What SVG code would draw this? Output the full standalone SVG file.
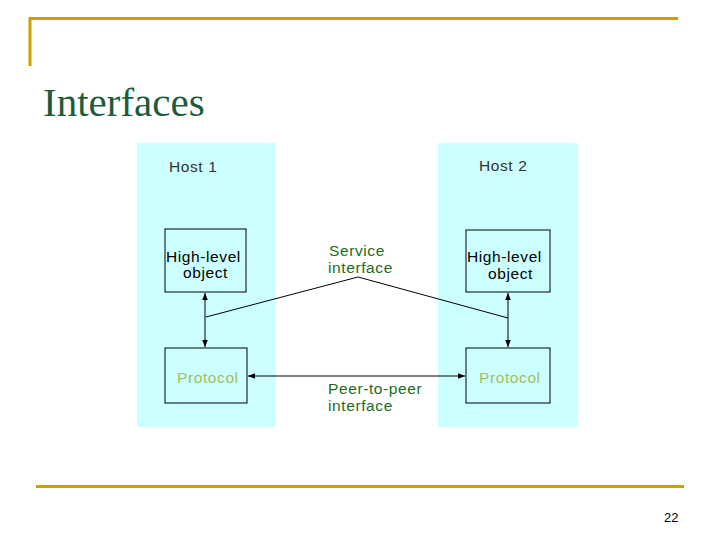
<svg xmlns="http://www.w3.org/2000/svg" width="720" height="540" viewBox="0 0 720 540">
<defs>
<marker id="a" viewBox="0 0 10 10" refX="10" refY="5" markerWidth="7" markerHeight="7" orient="auto-start-reverse"><path d="M0,1 L10,5 L0,9z" fill="#000"/></marker>
<style>
.s{font-family:"Liberation Sans",Arial,sans-serif;font-size:15.5px;letter-spacing:0.6px}
.box{fill:none;stroke:#000;stroke-width:1}
.ln{stroke:#000;stroke-width:1;fill:none}
.g{fill:#1e6b1e}
.p{fill:#a4bf5a}
</style>
</defs>
<rect width="720" height="540" fill="#fff"/>
<path d="M30,66 V18.5 H678" stroke="#c8a000" stroke-width="3" fill="none"/>
<line x1="36" y1="486.5" x2="684" y2="486.5" stroke="#c8a000" stroke-width="3"/>
<text x="43" y="116" font-family="Liberation Serif,serif" font-size="41" fill="#1e5b3a">Interfaces</text>
<text x="664" y="522" font-family="Liberation Sans,Arial,sans-serif" font-size="13">22</text>
<rect x="137" y="143" width="139" height="284" fill="#ccffff"/>
<rect x="438" y="143" width="140" height="284" fill="#ccffff"/>
<text class="s" x="169" y="172" fill="#333">Host 1</text>
<text class="s" x="479" y="171" fill="#333">Host 2</text>
<g id="hl1"><rect class="box" x="165" y="229" width="81" height="63"/><text class="s" x="166" y="262">High-level</text><text class="s" x="183" y="278">object</text></g>
<g id="pr1"><rect class="box" x="165" y="348" width="82" height="55"/><text class="s p" x="177" y="383">Protocol</text></g>
<g id="hl2"><rect class="box" x="466" y="230" width="84" height="62"/><text class="s" x="467" y="262">High-level</text><text class="s" x="488" y="279">object</text></g>
<g id="pr2"><rect class="box" x="466" y="348" width="84" height="55"/><text class="s p" x="479" y="383">Protocol</text></g>
<g id="labels"><text class="s g" x="329" y="256">Service</text><text class="s g" x="328" y="273">interface</text><text class="s g" x="328" y="394">Peer-to-peer</text><text class="s g" x="328" y="411">interface</text></g>
<g id="connectors">
<line class="ln" x1="205" y1="293" x2="205" y2="347" marker-start="url(#a)" marker-end="url(#a)"/>
<line class="ln" x1="508" y1="293" x2="508" y2="347" marker-start="url(#a)" marker-end="url(#a)"/>
<line class="ln" x1="248" y1="376" x2="465" y2="376" marker-start="url(#a)" marker-end="url(#a)"/>
<polyline class="ln" points="206,317 358,277 508,318"/>
</g>
</svg>
